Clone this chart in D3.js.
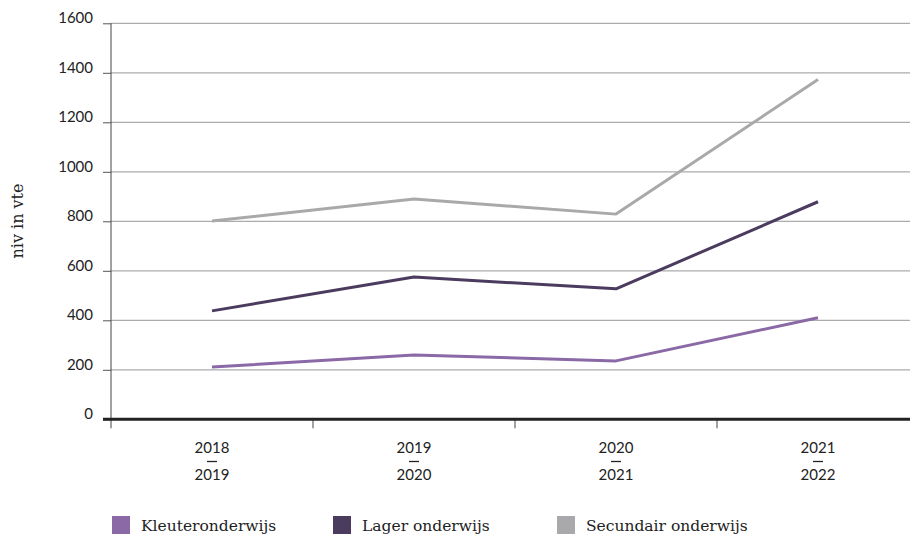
<!DOCTYPE html>
<html>
<head>
<meta charset="utf-8">
<script src="https://cdn.jsdelivr.net/npm/d3@7"></script>
<style>
  html, body { margin: 0; padding: 0; background: #fff; }
  svg { display: block; }
</style>
</head>
<body>
<svg id="chart" width="910" height="539"></svg>
<script>
// School years (two-line labels) and series values in VTE
const years = [["2018", "2019"], ["2019", "2020"], ["2020", "2021"], ["2021", "2022"]];
const kleuter = [211, 260, 236, 410];
const lager = [438, 575, 527, 879];
const secundair = [801, 890, 829, 1373];
const seriesNames = ["Kleuteronderwijs", "Lager onderwijs", "Secundair onderwijs"];
const seriesColors = ["#8a69a6", "#4b3b5e", "#a9a9ab"];
const yTicks = [0, 200, 400, 600, 800, 1000, 1200, 1400, 1600];

const svg = d3.select("#chart");
const sans = "Lato, 'Open Sans', sans-serif";
const serif = "'DejaVu Serif', 'Liberation Serif', serif";

const x0 = 111, x1 = 919, yTop = 23.3, yBottom = 419.3;
const keys = years.map(d => d.join("-"));
const x = d3.scaleBand().domain(keys).range([x0, x1]);
const y = d3.scaleLinear().domain([0, 1600]).range([yBottom, yTop]);

// Horizontal grid lines with small tick on the left
const yAxis = d3.axisLeft(y).tickValues(yTicks).tickSize(8).tickPadding(10).tickFormat(d3.format("d"));
const gy = svg.append("g").attr("transform", `translate(${x0},0)`).call(yAxis);
gy.select(".domain").remove();
gy.selectAll(".tick line").attr("stroke", "#555").attr("stroke-width", 1);
gy.selectAll(".tick text").attr("font-family", sans).attr("font-size", 15).attr("fill", "#222").attr("dy", "-0.05em");

svg.append("g").selectAll("line").data(yTicks.filter(v => v > 0)).join("line")
  .attr("x1", x0).attr("x2", 910)
  .attr("y1", d => y(d)).attr("y2", d => y(d))
  .attr("stroke", "#ababab").attr("stroke-width", 1.2);

// Vertical axis line
svg.append("line").attr("x1", x0).attr("x2", x0).attr("y1", yTop).attr("y2", yBottom + 9)
  .attr("stroke", "#444").attr("stroke-width", 1);

// Band boundary ticks below the baseline
const bounds = keys.map(k => x(k)).slice(1);
svg.append("g").selectAll("line").data(bounds).join("line")
  .attr("x1", d => d).attr("x2", d => d)
  .attr("y1", yBottom).attr("y2", yBottom + 9)
  .attr("stroke", "#444").attr("stroke-width", 1);

// Zero baseline
svg.append("line").attr("x1", x0 - 8).attr("x2", 910).attr("y1", y(0)).attr("y2", y(0))
  .attr("stroke", "#222").attr("stroke-width", 3);

// Category labels
const gx = svg.append("g").selectAll("g").data(years).join("g")
  .attr("transform", (d, i) => `translate(${x(keys[i]) + x.bandwidth() / 2},0)`);
gx.append("text").attr("y", 453).attr("text-anchor", "middle")
  .attr("font-family", sans).attr("font-size", 15).attr("fill", "#222").text(d => d[0]);
gx.append("line").attr("x1", -5).attr("x2", 5).attr("y1", 461.5).attr("y2", 461.5)
  .attr("stroke", "#222").attr("stroke-width", 1.3);
gx.append("text").attr("y", 480).attr("text-anchor", "middle")
  .attr("font-family", sans).attr("font-size", 15).attr("fill", "#222").text(d => d[1]);

// Y axis title
svg.append("text").attr("transform", "translate(23,221) rotate(-90)").attr("text-anchor", "middle")
  .attr("font-family", serif).attr("font-size", 16).attr("fill", "#222").text("niv in vte");

// Lines
const line = d3.line().x((d, i) => x(keys[i]) + x.bandwidth() / 2).y(d => y(d));
[secundair, lager, kleuter].forEach((vals, j) => {
  const c = [2, 1, 0][j];
  svg.append("path").datum(vals).attr("d", line)
    .attr("fill", "none").attr("stroke", seriesColors[c]).attr("stroke-width", 3)
    .attr("stroke-linejoin", "round");
});

// Legend
const legendX = [112, 333, 557];
const lg = svg.append("g").selectAll("g").data(seriesNames).join("g")
  .attr("transform", (d, i) => `translate(${legendX[i]},516)`);
lg.append("rect").attr("width", 18).attr("height", 18).attr("fill", (d, i) => seriesColors[i]);
lg.append("text").attr("x", 29).attr("y", 15).attr("font-family", serif).attr("font-size", 15.5)
  .attr("fill", "#222").text(d => d);
</script>
</body>
</html>
